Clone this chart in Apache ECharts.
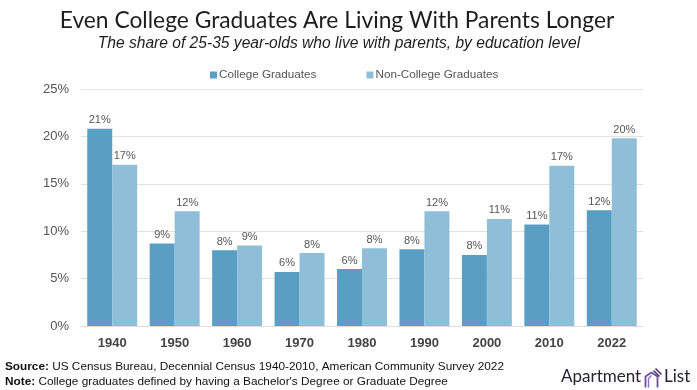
<!DOCTYPE html>
<html><head><meta charset="utf-8">
<script src="https://cdn.jsdelivr.net/npm/echarts@6/dist/echarts.min.js"></script>
<style>html,body{margin:0;padding:0;background:#fff}#c{width:697px;height:390px}</style>
</head><body><div id="c"></div>
<script>
const categories = ['1940','1950','1960','1970','1980','1990','2000','2010','2022'];
const collegeGrads = [20.8, 8.7, 8.0, 5.7, 6.0, 8.1, 7.5, 10.7, 12.2];
const nonCollegeGrads = [17.0, 12.1, 8.5, 7.7, 8.2, 12.1, 11.3, 16.9, 19.8];
const seriesNames = ['College Graduates', 'Non-College Graduates'];

const chart = echarts.init(document.getElementById('c'), null, {renderer: 'canvas'});
const lbl = {show: true, position: 'top', distance: 3, color: '#555', fontSize: 11, fontFamily: 'Liberation Sans',
  formatter: p => Math.round(p.value) + '%'};
chart.setOption({
  animation: false,
  title: [
    {text: 'Even College Graduates Are Living With Parents Longer', left: 332, top: 4, textAlign: 'center',
     textStyle: {fontFamily: 'Lato', fontWeight: 'normal', fontSize: 22.8, color: '#1e1e1e'}},
    {text: 'The share of 25-35 year-olds who live with parents, by education level', left: 334, top: 31, textAlign: 'center',
     textStyle: {fontFamily: 'Liberation Sans', fontStyle: 'italic', fontWeight: 'normal', fontSize: 15.6, color: '#1e1e1e'}}
  ],
  legend: {top: 64, left: 205, itemWidth: 7, itemHeight: 7, itemGap: 50, icon: 'rect',
    textStyle: {fontFamily: 'Liberation Sans', fontSize: 11.7, color: '#555', padding: [0,0,0,-3]}},
  grid: {left: 81, right: 54, top: 89, bottom: 64},
  xAxis: {type: 'category', data: categories,
    axisLine: {lineStyle: {color: '#ddd', width: 1}}, axisTick: {show: false},
    axisLabel: {color: '#444', fontSize: 13, fontWeight: 'bold', margin: 11, fontFamily: 'Liberation Sans'}},
  yAxis: {type: 'value', min: 0, max: 25, interval: 5,
    axisLabel: {formatter: '{value}%', color: '#555', fontSize: 13, margin: 12, fontFamily: 'Liberation Sans'},
    splitLine: {lineStyle: {color: '#e2e2e2'}}},
  series: [
    {name: seriesNames[0], type: 'bar', data: collegeGrads, barGap: '0%', barCategoryGap: '20%',
     itemStyle: {color: '#5a9ec4'}, label: lbl},
    {name: seriesNames[1], type: 'bar', data: nonCollegeGrads,
     itemStyle: {color: '#8fbfd8'}, label: lbl}
  ],
  graphic: [
    {type: 'text', left: 5, top: 361, style: {rich: {b: {fontWeight: 'bold', fontSize: 11.8, fontFamily: 'Liberation Sans', fill: '#111'}, n: {fontSize: 11.8, fontFamily: 'Liberation Sans', fill: '#111'}},
      text: '{b|Source:}{n| US Census Bureau, Decennial Census 1940-2010, American Community Survey 2022}'}},
    {type: 'text', left: 5, top: 376, style: {rich: {b: {fontWeight: 'bold', fontSize: 11.8, fontFamily: 'Liberation Sans', fill: '#111'}, n: {fontSize: 11.8, fontFamily: 'Liberation Sans', fill: '#111'}},
      text: "{b|Note:}{n| College graduates defined by having a Bachelor's Degree or Graduate Degree}"}},
    {type: 'text', left: 561, top: 368, style: {text: 'Apartment', fontSize: 17, fontFamily: 'Lato', fill: '#2a2030'}},
    {type: 'text', left: 664, top: 368, style: {text: 'List', fontSize: 17, fontFamily: 'Lato', fill: '#2a2030'}},
    {type: 'group', left: 643, top: 366, children: [
      {type: 'polyline', shape: {points: [[2,19],[2,8],[8,4],[14,8],[14,19]]}, style: {stroke: '#6a4fa0', lineWidth: 1.8, fill: null}},
      {type: 'polyline', shape: {points: [[5,19],[5,10],[8,7]]}, style: {stroke: '#8a6fc0', lineWidth: 1.4, fill: null}},
      {type: 'line', shape: {x1: 10, y1: 2, x2: 16, y2: 8}, style: {stroke: '#3a2a60', lineWidth: 1.4}},
      {type: 'line', shape: {x1: 12, y1: 0, x2: 18, y2: 6}, style: {stroke: '#3a2a60', lineWidth: 1.4}}
    ]}
  ]
});
</script></body></html>
